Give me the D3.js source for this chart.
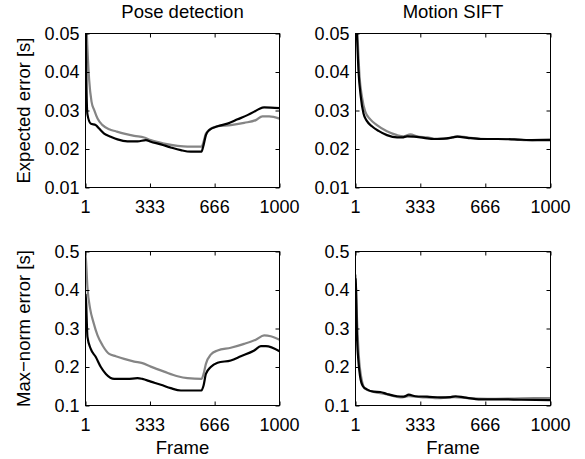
<!DOCTYPE html>
<html>
<head>
<meta charset="utf-8">
<script src="https://cdn.jsdelivr.net/npm/d3@7"></script>
<style>
	body { margin: 0; background: #fff; }
	text { font-family: "Liberation Sans", Arial, Helvetica, sans-serif; fill: #000; }
</style>
</head>
<body>
<div id="chart"></div>
<script>
// [frame, value] pairs
var poseExpectedBlack = [[1,0.056],[6,0.036],[11,0.029],[28,0.0266],[54,0.0262],[71,0.0253],[97,0.0240],[131,0.0232],[166,0.0225],[217,0.0220],[269,0.0220],[312,0.0223],[337,0.0219],[389,0.0212],[440,0.0204],[492,0.0197],[543,0.0193],[598,0.0193],[609,0.0210],[621,0.0236],[638,0.0249],[681,0.0259],[732,0.0266],[784,0.0277],[835,0.0288],[870,0.0297],[895,0.0304],[921,0.0308],[1000,0.0306]];
var poseExpectedGray = [[1,0.062],[8,0.050],[20,0.0379],[32,0.0323],[46,0.0301],[63,0.0279],[89,0.0262],[123,0.0251],[157,0.0246],[200,0.0240],[252,0.0234],[303,0.0230],[337,0.0223],[406,0.0214],[475,0.0208],[526,0.0206],[598,0.0206],[609,0.0219],[621,0.0240],[646,0.0253],[681,0.0259],[749,0.0262],[818,0.0268],[878,0.0275],[912,0.0285],[947,0.0285],[1000,0.0279]];
var siftExpectedBlack = [[1,0.060],[8,0.050],[16,0.0405],[28,0.0336],[42,0.0292],[59,0.0273],[85,0.0259],[119,0.0247],[162,0.0236],[214,0.0230],[240,0.0230],[265,0.0233],[300,0.0232],[351,0.0229],[403,0.0226],[454,0.0227],[497,0.0230],[523,0.0232],[574,0.0229],[643,0.0226],[729,0.0226],[815,0.0225],[918,0.0223],[1000,0.0223]];
var siftExpectedGray = [[1,0.062],[11,0.050],[22,0.0387],[34,0.0336],[51,0.0297],[77,0.0277],[111,0.0262],[162,0.0246],[214,0.0236],[248,0.0233],[282,0.0238],[317,0.0233],[368,0.0230],[420,0.0226],[471,0.0227],[523,0.0233],[574,0.0230],[677,0.0226],[780,0.0226],[883,0.0223],[1000,0.0225]];
var poseMaxBlack = [[1,0.39],[4,0.37],[11,0.278],[28,0.247],[54,0.226],[80,0.200],[106,0.182],[149,0.169],[217,0.169],[269,0.171],[294,0.169],[337,0.162],[389,0.154],[440,0.145],[492,0.139],[598,0.139],[609,0.152],[621,0.182],[646,0.200],[681,0.211],[749,0.217],[801,0.228],[870,0.243],[904,0.254],[930,0.254],[1000,0.241]];
var poseMaxGray = [[1,0.49],[3,0.481],[11,0.407],[25,0.351],[42,0.316],[63,0.282],[89,0.256],[123,0.234],[157,0.228],[200,0.221],[252,0.214],[294,0.210],[337,0.201],[406,0.188],[475,0.176],[526,0.171],[598,0.169],[609,0.182],[621,0.208],[646,0.232],[681,0.243],[749,0.250],[818,0.260],[878,0.271],[921,0.282],[955,0.280],[1000,0.271]];
var siftMaxBlack = [[1,0.43],[4,0.40],[8,0.290],[15,0.221],[25,0.174],[39,0.150],[59,0.142],[94,0.136],[128,0.135],[162,0.130],[214,0.124],[248,0.123],[274,0.128],[308,0.124],[368,0.123],[437,0.121],[488,0.122],[514,0.124],[557,0.121],[643,0.116],[746,0.116],[849,0.115],[1000,0.114]];
var siftMaxGray = [[1,0.44],[8,0.334],[18,0.230],[32,0.169],[51,0.143],[94,0.135],[162,0.129],[231,0.121],[274,0.124],[334,0.122],[420,0.119],[506,0.122],[574,0.119],[677,0.117],[815,0.118],[918,0.119],[1000,0.119]];

var titles = ["Pose detection", "Motion SIFT"];
var yLabels = ["Expected error [s]", "Max\u2212norm error [s]"];
var xTicks = [1, 333, 666, 1000];
var yTicksExpected = [0.01, 0.02, 0.03, 0.04, 0.05];
var yTicksMax = [0.1, 0.2, 0.3, 0.4, 0.5];

var width = 585, height = 459;
var cols = [[85.5, 279.5], [355.5, 550.5]];
var rows = [[33.5, 187.5], [251.5, 405.5]];

var panels = [
	{row: 0, col: 0, domain: [0.01, 0.05], ticks: yTicksExpected, fmt: d3.format(".2f"), series: [poseExpectedGray, poseExpectedBlack]},
	{row: 0, col: 1, domain: [0.01, 0.05], ticks: yTicksExpected, fmt: d3.format(".2f"), series: [siftExpectedGray, siftExpectedBlack]},
	{row: 1, col: 0, domain: [0.1, 0.5], ticks: yTicksMax, fmt: d3.format(".1f"), series: [poseMaxGray, poseMaxBlack]},
	{row: 1, col: 1, domain: [0.1, 0.5], ticks: yTicksMax, fmt: d3.format(".1f"), series: [siftMaxGray, siftMaxBlack]}
];
var colors = ["#858585", "#000"];

var svg = d3.select("#chart").append("svg")
	.attr("width", width)
	.attr("height", height);

panels.forEach(function (p, i) {
	var x = d3.scaleLinear().domain([1, 1000]).range(cols[p.col]);
	var y = d3.scaleLinear().domain(p.domain).range([rows[p.row][1], rows[p.row][0]]);
	var g = svg.append("g");

	g.append("clipPath").attr("id", "clip-" + i)
		.append("rect")
			.attr("x", x.range()[0]).attr("y", y.range()[1])
			.attr("width", x.range()[1] - x.range()[0])
			.attr("height", y.range()[0] - y.range()[1]);

	var line = d3.line()
		.x(function (d) { return x(d[0]); })
		.y(function (d) { return y(d[1]); })
		.curve(d3.curveMonotoneX);

	p.series.forEach(function (s, k) {
		g.append("path")
			.attr("clip-path", "url(#clip-" + i + ")")
			.attr("d", line(s))
			.attr("fill", "none")
			.attr("stroke", colors[k])
			.attr("stroke-width", 2.2)
			.attr("stroke-linejoin", "round");
	});

	// inward ticks on all four sides, matlab style
	var ax = [
		d3.axisBottom(x).tickValues(xTicks).tickSize(4).tickFormat(""),
		d3.axisTop(x).tickValues(xTicks).tickSize(4).tickFormat(""),
		d3.axisLeft(y).tickValues(p.ticks).tickSize(4).tickFormat(""),
		d3.axisRight(y).tickValues(p.ticks).tickSize(4).tickFormat("")
	];
	var pos = ["translate(0," + y.range()[0] + ")", "translate(0," + y.range()[1] + ")",
		"translate(" + x.range()[0] + ",0)", "translate(" + x.range()[1] + ",0)"];
	ax.forEach(function (a, j) {
		var ag = g.append("g").attr("transform", pos[j]).call(a.tickSizeOuter(0));
		ag.select(".domain").remove();
		ag.selectAll(".tick line").attr("y2", j == 0 ? -4 : (j == 1 ? 4 : null))
			.attr("x2", j == 2 ? 4 : (j == 3 ? -4 : null))
			.attr("stroke", "#000");
	});

	g.append("rect")
		.attr("x", x.range()[0]).attr("y", y.range()[1])
		.attr("width", x.range()[1] - x.range()[0])
		.attr("height", y.range()[0] - y.range()[1])
		.attr("fill", "none").attr("stroke", "#000").attr("stroke-width", 1);

	g.selectAll("text.xt").data(xTicks).enter().append("text")
		.attr("x", function (d) { return x(d); })
		.attr("y", y.range()[0] + 25)
		.attr("text-anchor", "middle")
		.style("font-size", "18px")
		.text(function (d) { return d; });

	g.selectAll("text.yt").data(p.ticks).enter().append("text")
		.attr("x", x.range()[0] - 6)
		.attr("y", function (d) { return y(d); })
		.attr("dy", "0.36em")
		.attr("text-anchor", "end")
		.style("font-size", "18px")
		.text(function (d) { return p.fmt(d); });

	var cx = (x.range()[0] + x.range()[1]) / 2;
	if (p.row == 0) {
		g.append("text").attr("x", cx).attr("y", 18)
			.attr("text-anchor", "middle").style("font-size", "18.5px")
			.text(titles[p.col]);
	} else {
		g.append("text").attr("x", cx).attr("y", 454)
			.attr("text-anchor", "middle").style("font-size", "18.5px")
			.text("Frame");
	}
	if (p.col == 0) {
		var cy = (y.range()[0] + y.range()[1]) / 2;
		g.append("text")
			.attr("transform", "translate(29.5," + cy + ") rotate(-90)")
			.attr("text-anchor", "middle").style("font-size", "18.5px")
			.text(yLabels[p.row]);
	}
});
</script>
</body>
</html>
